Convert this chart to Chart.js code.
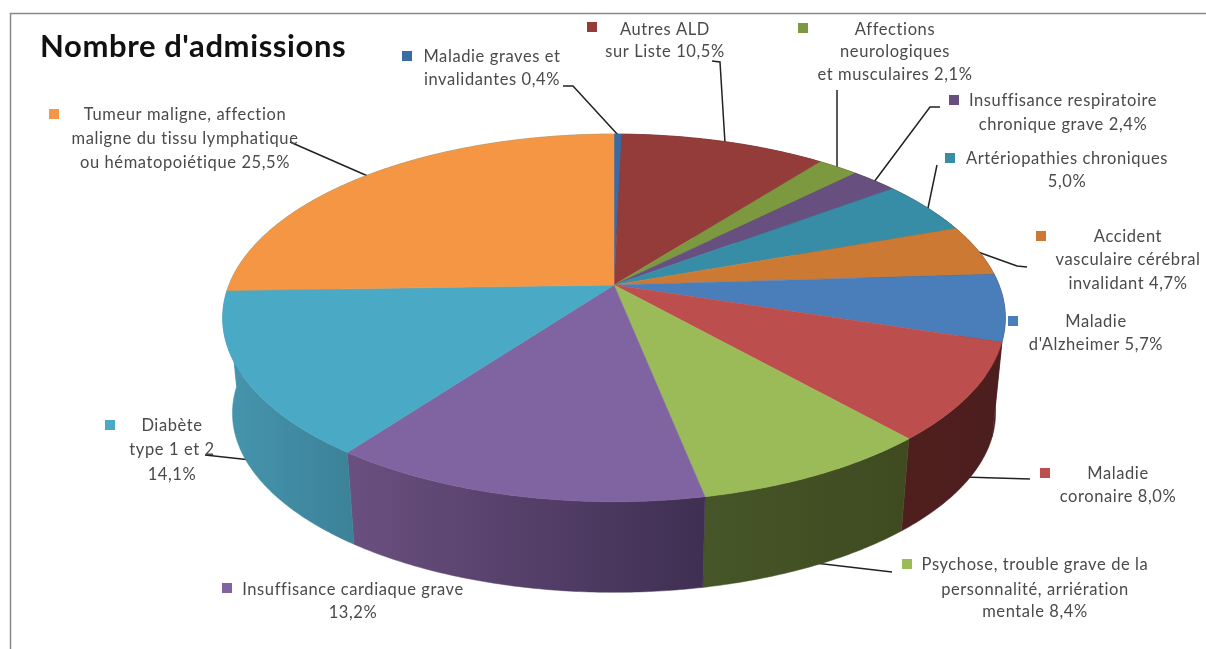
<!DOCTYPE html>
<html lang="fr">
<head>
<meta charset="utf-8">
<title>Nombre d'admissions</title>
<script src="https://cdn.jsdelivr.net/npm/chart.js@4"></script>
<style>
  html, body { margin: 0; padding: 0; background: #fff; overflow: hidden; }
  #Chart { display: block; filter: blur(0.55px); }
</style>
</head>
<body>
<canvas id="Chart" width="1206" height="649"></canvas>
<script>
const chartTitle = "Nombre d'admissions";

// valeurs (%)
const values = [0.4, 10.5, 2.1, 2.4, 5.0, 4.7, 5.7, 8.0, 8.4, 13.2, 14.1, 25.5];

// texte des etiquettes, la valeur est ajoutee a la derniere ligne
const categories = [
  ["Maladie graves et", "invalidantes"],
  ["Autres ALD", "sur Liste"],
  ["Affections", "neurologiques", "et musculaires"],
  ["Insuffisance respiratoire", "chronique grave"],
  ["Artériopathies chroniques", ""],
  ["Accident", "vasculaire cérébral", "invalidant"],
  ["Maladie", "d'Alzheimer"],
  ["Maladie", "coronaire"],
  ["Psychose, trouble grave de la", "personnalité, arriération", "mentale"],
  ["Insuffisance cardiaque grave", ""],
  ["Diabète", "type 1 et 2", ""],
  ["Tumeur maligne, affection", "maligne du tissu lymphatique", "ou hématopoiétique"]
];

const topColors = ["#3b6ba5", "#943c3a", "#7d993f", "#674f80", "#368da5", "#cc7a33",
                   "#4a7ebb", "#bc4f4d", "#9bbb59", "#8064a2", "#4aa9c4", "#f49643"];
const keyColors = topColors;
// flanc du camembert : couleur gauche / droite de chaque part
const sideLeft  = ["#4f1f1e", "#4f1f1e", "#4f1f1e", "#4f1f1e", "#4f1f1e", "#4f1f1e",
                   "#4f1f1e", "#4f1f1e", "#465628", "#6a5080", "#4596ae", "#4596ae"];
const sideRight = ["#4f1f1e", "#4f1f1e", "#4f1f1e", "#4f1f1e", "#4f1f1e", "#4f1f1e",
                   "#4f1f1e", "#4c1e1d", "#3f4a20", "#3f2f52", "#3c8198", "#4596ae"];

// position des etiquettes : centre du texte, y de chaque ligne, carre de legende
const labelX = [492, 665, 895, 1063, 1067, 1128, 1096, 1118, 1035, 353, 172, 185];
const labelY = [[57, 80], [30, 52], [30, 52, 75], [101, 125], [159, 182], [237, 260, 284],
                [322, 345], [474, 497], [565, 590, 612], [590, 613], [426, 450, 475], [115, 139, 163]];
const keyPos = [[407, 56], [592, 27], [803, 28], [954, 100], [950, 158], [1041, 236],
                [1013, 321], [1045, 473], [907, 564], [227, 588], [110, 425], [54, 114]];
const leaders = [
  [[563, 86], [573, 86], [618, 135]],
  [[712, 61], [720, 62], [725, 143]],
  [[837, 90], [837, 168]],
  [[940, 107], [930, 107], [874, 182]],
  [[937, 165], [928, 208]],
  [[1027, 267], [1017, 266], [978, 252]],
  [],
  [[1030, 479], [963, 477]],
  [[892, 572], [815, 563]],
  [],
  [[205, 455], [251, 460]],
  [[290, 142], [370, 177]]
];

// perspective du disque
const stretchX = 1.426, stretchY = 0.659, persp = 0.179;
const depth = 96, bottomScale = 0.975;
// deformation de l'original : angle a plat (degres) -> decalage a l'ecran (degres)
const warpDeg = [0, 39, 90, 111, 140, 217, 268, 360];
const warpShift = [0, -1.5, -3.9, -3.2, -1.2, -1.1, 0, 0];

function pctText(v) { return v.toFixed(1).replace(".", ",") + "%"; }

function labelLines(i) {
  const lines = categories[i].slice();
  const last = lines.length - 1;
  lines[last] = (lines[last] + " " + pctText(values[i])).trim();
  return lines;
}

function warped(angle) {
  const t = (angle + Math.PI / 2) * 180 / Math.PI;
  for (let n = 1; n < warpDeg.length; n++) {
    if (t <= warpDeg[n]) {
      const f = (t - warpDeg[n - 1]) / (warpDeg[n] - warpDeg[n - 1]);
      return angle + (warpShift[n - 1] + f * (warpShift[n] - warpShift[n - 1])) * Math.PI / 180;
    }
  }
  return angle;
}

function project(arc, angle, bottom) {
  const a = warped(angle);
  const u = Math.cos(a), v = Math.sin(a);
  const d = 1 - persp * v;
  const x = arc.outerRadius * stretchX * u / d;
  const y = arc.outerRadius * stretchY * v / d;
  if (bottom) return [arc.x + x * bottomScale, arc.y + depth + y * bottomScale];
  return [arc.x + x, arc.y + y];
}

function edgePoints(arc, bottom) {
  const pts = [];
  const steps = Math.max(4, Math.ceil((arc.endAngle - arc.startAngle) / 0.01));
  for (let s = 0; s <= steps; s++) {
    pts.push(project(arc, arc.startAngle + (arc.endAngle - arc.startAngle) * s / steps, bottom));
  }
  return pts;
}

const pie3d = {
  id: "pie3d",
  beforeDatasetDraw(chart) {
    const ctx = chart.ctx;
    const arcs = chart.getDatasetMeta(0).data;

    ctx.save();
    ctx.lineWidth = 1.5;
    ctx.strokeStyle = "#222";
    leaders.forEach(line => {
      if (!line.length) return;
      ctx.beginPath();
      line.forEach((p, n) => n ? ctx.lineTo(p[0], p[1]) : ctx.moveTo(p[0], p[1]));
      ctx.stroke();
    });

    // flancs, la part de gauche d'abord pour qu'elle reste derriere le diabete
    const order = [11, 0, 1, 2, 3, 4, 5, 6, 7, 8, 9, 10];
    order.forEach(i => {
      const arc = arcs[i];
      const top = edgePoints(arc, false), low = edgePoints(arc, true).reverse();
      const all = top.concat(low);
      const xs = all.map(p => p[0]);
      const g = ctx.createLinearGradient(Math.min(...xs), 0, Math.max(...xs), 0);
      g.addColorStop(0, sideLeft[i]);
      g.addColorStop(1, sideRight[i]);
      ctx.fillStyle = g;
      ctx.strokeStyle = g;
      ctx.lineWidth = 0.5;
      ctx.beginPath();
      all.forEach((p, n) => n ? ctx.lineTo(p[0], p[1]) : ctx.moveTo(p[0], p[1]));
      ctx.closePath();
      ctx.fill();
      ctx.stroke();
    });

    // dessus
    arcs.forEach((arc, i) => {
      ctx.fillStyle = topColors[i];
      ctx.strokeStyle = topColors[i];
      ctx.lineWidth = 0.5;
      ctx.beginPath();
      ctx.moveTo(arc.x, arc.y);
      edgePoints(arc, false).forEach(p => ctx.lineTo(p[0], p[1]));
      ctx.closePath();
      ctx.fill();
      ctx.stroke();
    });
    ctx.restore();
    return false;
  },
  afterDraw(chart) {
    const ctx = chart.ctx;
    ctx.save();
    // cadre
    ctx.strokeStyle = "#8a8a8a";
    ctx.lineWidth = 1.5;
    ctx.beginPath();
    ctx.moveTo(10.5, 649);
    ctx.lineTo(10.5, 13.5);
    ctx.lineTo(1206, 13.5);
    ctx.stroke();

    ctx.fillStyle = "#111";
    ctx.font = "bold 31px Lato";
    ctx.letterSpacing = "0.6px";
    ctx.textAlign = "left";
    ctx.textBaseline = "middle";
    ctx.fillText(chartTitle, 40, 47);

    ctx.font = "16.5px Lato";
    ctx.letterSpacing = "0.6px";
    ctx.textAlign = "center";
    categories.forEach((c, i) => {
      const k = keyPos[i];
      ctx.fillStyle = keyColors[i];
      ctx.fillRect(k[0] - 5, k[1] - 5, 10, 10);
      ctx.fillStyle = "#4a4a4a";
      labelLines(i).forEach((line, n) => ctx.fillText(line, labelX[i], labelY[i][n]));
    });
    ctx.restore();
  }
};

const radius = 270, cx = 614, cy = 285;
let chart = new Chart(document.getElementById("Chart"), {
  type: "pie",
  data: {
    labels: categories.map(c => c.join(" ").trim()),
    datasets: [{ data: values, backgroundColor: topColors, borderWidth: 0 }]
  },
  options: {
    responsive: false,
    animation: false,
    layout: { padding: { left: cx - radius, right: 1206 - cx - radius, top: cy - radius, bottom: 649 - cy - radius } },
    plugins: { legend: { display: false }, tooltip: { enabled: false }, title: { display: false } }
  },
  plugins: [pie3d]
});
</script>
</body>
</html>
